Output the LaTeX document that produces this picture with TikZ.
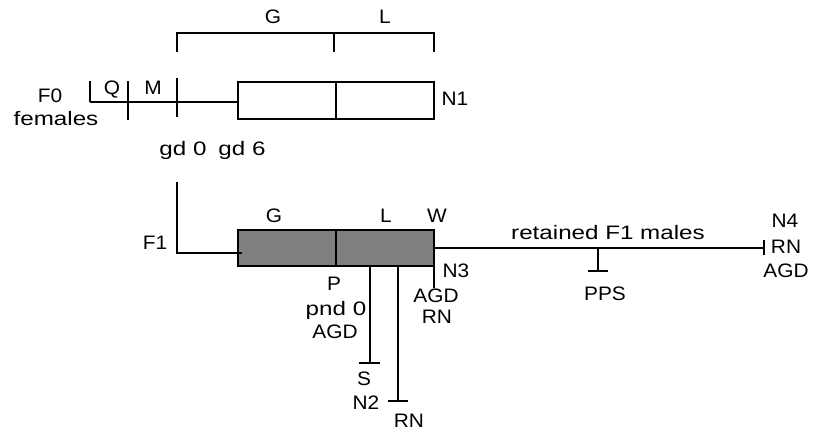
\documentclass[tikz,border=0pt]{standalone}
\usepackage{fontspec}
\setmainfont[FakeStretch=1.24]{Liberation Sans}
\newfontfamily\capsfont[FakeStretch=1.07]{Liberation Sans}
\definecolor{boxgray}{RGB}{128,128,128}
\begin{document}
\begin{tikzpicture}[x=1pt,y=-1pt,line width=1.8pt,
  lbl/.style={inner sep=0pt,anchor=base,font=\fontsize{19.5}{24}\selectfont},
  capslbl/.style={lbl,font=\fontsize{19.5}{24}\capsfont},
  period/.style={draw,line width=1.8pt}]
\useasboundingbox (0,0) rectangle (815,432);

% ---- F0 generation ----
% bracket above the gestation/lactation box
\coordinate (bl) at (177,52);
\coordinate (bm) at (334,52);
\coordinate (br) at (434,52);
\draw (bl) -- (177,33) -- (434,33) -- (br);
\draw (334,33) -- (bm);
\node[capslbl] (tG) at (273,23) {G};
\node[capslbl] (tL) at (385,23) {L};

% timeline with quarantine and mating ticks
\coordinate (t0) at (90,102);
\coordinate (g0w) at (238,102);
\draw[period] (238,82) rectangle (336,119);
\draw[period] (336,82) rectangle (434,119);
\draw (t0) -- (g0w);
\draw (90,81) -- (t0);
\draw (128,81) -- (128,120);
\draw (177,78) -- (177,117);

\node[capslbl] (f0) at (50,102) {F0};
\node[lbl] (fem) at (56,125) {females};
\node[capslbl] (q) at (112,94) {Q};
\node[capslbl] (m) at (153,94) {M};
\node[capslbl] (n1) at (455,105) {N1};
\node[lbl] (gd0) at (183,155) {gd 0};
\node[lbl] (gd6) at (242,155) {gd 6};

% ---- F1 generation ----
\draw[period,fill=boxgray] (238,230) rectangle (336,266);
\draw[period,fill=boxgray] (336,230) rectangle (434,266);
\coordinate (f1top) at (177,182);
\coordinate (g1w) at (242,253);
\draw (f1top) -- (177,253) -- (g1w);

\node[capslbl] (tG1) at (274,222) {G};
\node[capslbl] (tL1) at (386,222) {L};
\node[capslbl] (tW) at (437,222) {W};
\node[capslbl] (f1) at (155,249) {F1};
\node[capslbl] (p) at (334,290) {P};
\node[lbl] (pnd) at (336,315) {pnd 0};
\node[capslbl] (agd1) at (335,338) {AGD};

% drop-outs from the lactation period
\coordinate (sTop) at (370,266);
\coordinate (sEnd) at (370,363);
\draw (sTop) -- (sEnd);
\draw (359,363) -- (380,363);
\node[capslbl] (s) at (364,385) {S};

\coordinate (n2Top) at (398,266);
\coordinate (n2End) at (398,401);
\draw (n2Top) -- (n2End);
\draw (388,401) -- (408,401);
\node[capslbl] (n2) at (366,409) {N2};
\node[capslbl] (rn2) at (409,427) {RN};

% weaning necropsy
\coordinate (n3Top) at (434,266);
\coordinate (n3End) at (434,288);
\draw (n3Top) -- (n3End);
\node[capslbl] (n3) at (456,277) {N3};
\node[capslbl] (agd3) at (436,302) {AGD};
\node[capslbl] (rn3) at (437,323) {RN};

% retained males
\coordinate (l1e) at (434,248);
\coordinate (n4) at (764,248);
\coordinate (pps) at (598,248);
\draw (l1e) -- (n4);
\draw (764,240) -- (764,255);
\draw (pps) -- (598,271);
\draw (588,271) -- (608,271);
\node[capslbl] (ppsl) at (605,300) {PPS};
\node[lbl] (ret) at (608,239) {retained F1 males};
\node[capslbl] (n4a) at (785,227) {N4};
\node[capslbl] (n4b) at (786,253) {RN};
\node[capslbl] (n4c) at (786,277) {AGD};
\end{tikzpicture}
\end{document}
